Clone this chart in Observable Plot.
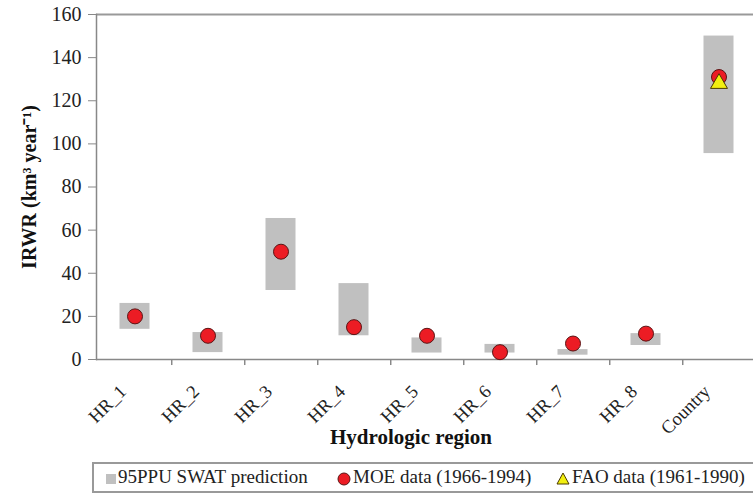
<!DOCTYPE html>
<html>
<head>
<meta charset="utf-8">
<script src="https://cdn.jsdelivr.net/npm/d3@7"></script>
<script src="https://cdn.jsdelivr.net/npm/@observablehq/plot@0.6"></script>
<style>
  body { margin: 0; background: #fff; font-family: "Liberation Serif", "Times New Roman", serif; }
  #chart { position: relative; width: 753px; height: 493px; overflow: hidden; }
  #legend {
    position: absolute; left: 92px; top: 462px; width: 680px; height: 27px;
    border: 2px solid #999; border-right: none;
    font-family: "Liberation Serif", serif; font-size: 19px; color: #222;
  }
  .item { position: absolute; top: 2px; white-space: nowrap; }
  .sw { display: inline-block; vertical-align: middle; margin-right: 2px; }
</style>
</head>
<body>
<div id="chart"></div>
<script>
const categories = ["HR_1", "HR_2", "HR_3", "HR_4", "HR_5", "HR_6", "HR_7", "HR_8", "Country"];
const ppuLow  = [14, 3.2, 32, 11, 3, 3, 2, 6.5, 95.5];
const ppuHigh = [26, 12.5, 65.4, 35.2, 10, 7, 4.6, 12, 150];
const moeValues = [20, 11, 50, 15, 11, 3.4, 7.4, 12, 131];
const faoCategories = ["Country"];
const faoValues = [128];
const yTicks = [0, 20, 40, 60, 80, 100, 120, 140, 160];
const yLabel = "IRWR (km³ year⁻¹)";
const xLabel = "Hydrologic region";
const legendLabels = ["95PPU SWAT prediction", "MOE data (1966-1994)", "FAO data (1961-1990)"];

const ppu = categories.map((c, i) => ({cat: c, lo: ppuLow[i], hi: ppuHigh[i]}));
const moe = categories.map((c, i) => ({cat: c, v: moeValues[i]}));
const fao = faoCategories.map((c, i) => ({cat: c, v: faoValues[i]}));

const W = 753, H = 458;
const bw = (757 - 96) / categories.length;
const serif = "Liberation Serif";

const chart = Plot.plot({
  width: W, height: H,
  marginLeft: 96, marginTop: 14, marginRight: 0, marginBottom: H - 359,
  style: {fontFamily: serif, background: "white", color: "#222", overflow: "visible"},
  x: {type: "band", domain: categories, range: [96, 757], padding: 0},
  y: {type: "linear", domain: [0, 160], range: [359, 14]},
  marks: [
    Plot.barY(ppu, {x: "cat", y1: "lo", y2: "hi", fill: "#c0c0c0", insetLeft: 21.5, insetRight: 21.5}),
    Plot.ruleY([160], {stroke: "#999", strokeWidth: 2}),
    Plot.ruleY([0], {stroke: "#888", strokeWidth: 1.5}),
    Plot.frame({anchor: "left", stroke: "#888", strokeWidth: 1.5}),
    // boundary ticks of the category axis
    Plot.ruleX(categories, {x: d => d, dx: bw / 2, y1: 0, y2: -2.8, stroke: "#888", strokeWidth: 1.5}),
    Plot.axisY({ticks: yTicks, tickSize: 8, tickPadding: 7, fontSize: 20, fontFamily: serif, label: null, stroke: "#888", fill: "#222"}),
    Plot.axisX({tickSize: 0, tickRotate: -45, fontSize: 18.5, fontFamily: serif, tickPadding: 27, dx: -12, dy: 2, label: null, fill: "#222"}),
    Plot.dot(moe, {x: "cat", y: "v", r: 7.5, fill: "#ec1c24", stroke: "#5a1414", strokeWidth: 1}),
    Plot.dot(fao, {x: "cat", y: "v", r: 6.3, symbol: "triangle", fill: "#f2ef10", stroke: "#4a3a00", strokeWidth: 1}),
    Plot.text([xLabel], {frameAnchor: "bottom", dx: -14, dy: 84, fontSize: 21, fontFamily: serif, fontWeight: "bold", fill: "#111"}),
    Plot.text([yLabel], {frameAnchor: "left", textAnchor: "middle", rotate: -90, dx: -67, fontSize: 20, fontFamily: serif, fontWeight: "bold", fill: "#111"})
  ]
});
document.getElementById("chart").appendChild(chart);

const legend = document.createElement("div");
legend.id = "legend";
legend.innerHTML = `
  <span class="item" style="left:12px"><span class="sw" style="width:10px;height:10px;background:#c0c0c0;"></span>${legendLabels[0]}</span>
  <span class="item" style="left:243px"><svg class="sw" width="14" height="14" viewBox="0 0 14 14"><circle cx="7" cy="7" r="6" fill="#ec1c24" stroke="#5a1414"/></svg>${legendLabels[1]}</span>
  <span class="item" style="left:462px"><svg class="sw" width="14" height="13" viewBox="0 0 14 13"><path d="M7 1 L13 12 L1 12 Z" fill="#f2ef10" stroke="#4a3a00"/></svg>${legendLabels[2]}</span>`;
document.getElementById("chart").appendChild(legend);
</script>
</body>
</html>
